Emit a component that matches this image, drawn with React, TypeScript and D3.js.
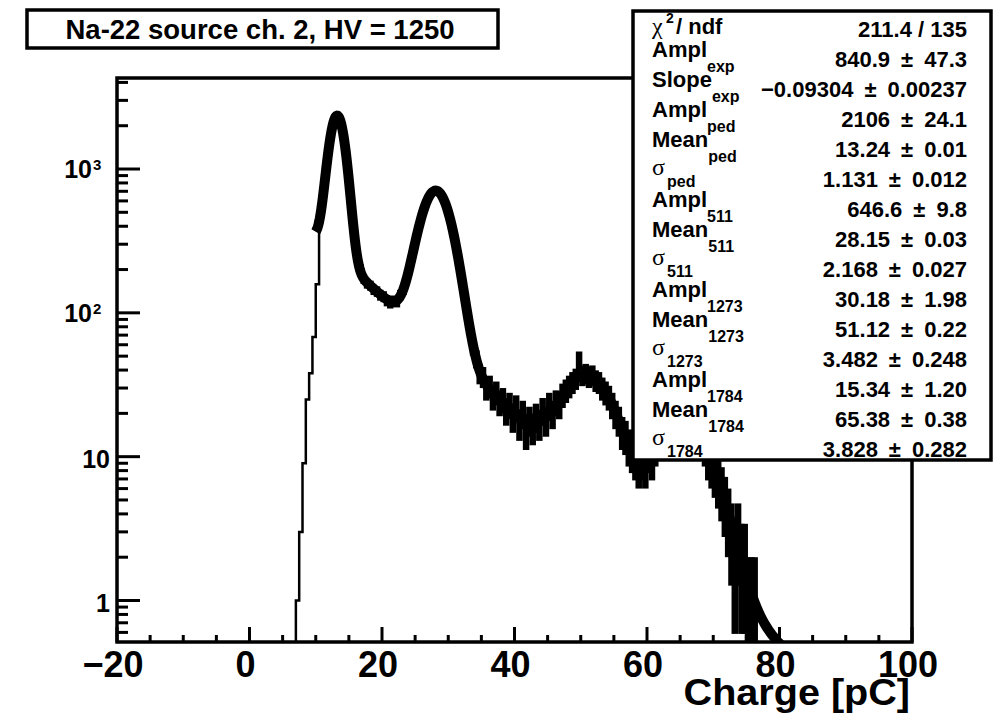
import React from "react";
import * as d3 from "d3";

// ---------- data ----------
const BIN_START = 7.0;
const BIN_WIDTH = 0.5;
// histogram counts, bins of 0.5 pC starting at 7.0 pC
const counts: number[] = [
  1, 3, 9, 25, 38, 68, 158, 440, 745, 1160,
  1710, 2160, 2360, 2120, 1650, 1070, 640, 380, 245, 196,
  172, 160, 155, 145, 141, 133, 130, 122, 118, 121,
  120, 133, 145, 176, 212, 277, 340, 430, 510, 600,
  655, 705, 700, 685, 620, 550, 450, 365, 282, 205,
  152, 106, 80, 58, 48, 38, 36, 30, 31, 26,
  28, 24, 25, 21, 23, 19, 22, 17, 20, 15,
  18, 16, 19, 17, 21, 18, 23, 20, 24, 23,
  27, 29, 31, 33, 35, 47, 37, 38, 36, 37,
  34, 33, 30, 28, 26, 23, 20, 18, 15, 14,
  12, 11, 10, 9, 10, 9, 11, 10, 12, 13,
  13, 15, 15, 17, 16, 17, 18, 17, 16, 16,
  15, 14, 13, 12, 10, 9, 8, 7, 6, 5,
  4, 3, 2, 3, 2, 2, 1, 1, 1, 0,
  0, 0, 0, 0, 0, 0, 0, 0, 0, 0,
];
const ERR_FROM = 10.5; // first bin drawn with error bars
const FIT_RANGE = [10, 85];
const expAmpl = 840.9;
const expSlope = -0.09304;
const peakAmpl = [2106, 646.6, 30.18, 15.34];
const peakMean = [13.24, 28.15, 51.12, 65.38];
const peakSigma = [1.131, 2.168, 3.482, 3.828];

const X_DOMAIN = [-20, 100];
const Y_DOMAIN = [0.5146, 4293];
const xMajorTicks = [-20, 0, 20, 40, 60, 80, 100];
const xLabels = ["\u221220", "0", "20", "40", "60", "80", "100"];
const yMajorTicks = [1, 10, 100, 1000];
const yLabelBase = ["1", "10", "10", "10"];
const yLabelExp = ["", "", "2", "3"];

const title = "Na-22 source ch. 2, HV = 1250";
const xTitle = "Charge [pC]";

const statMain = ["\u03c7", "Ampl", "Slope", "Ampl", "Mean", "\u03c3", "Ampl", "Mean", "\u03c3", "Ampl", "Mean", "\u03c3", "Ampl", "Mean", "\u03c3"];
const statSub = ["2", "exp", "exp", "ped", "ped", "ped", "511", "511", "511", "1273", "1273", "1273", "1784", "1784", "1784"];
const statValues = [
  "211.4 / 135",
  "840.9 \u00b1 47.3",
  "\u22120.09304 \u00b1 0.00237",
  "2106 \u00b1 24.1",
  "13.24 \u00b1 0.01",
  "1.131 \u00b1 0.012",
  "646.6 \u00b1 9.8",
  "28.15 \u00b1 0.03",
  "2.168 \u00b1 0.027",
  "30.18 \u00b1 1.98",
  "51.12 \u00b1 0.22",
  "3.482 \u00b1 0.248",
  "15.34 \u00b1 1.20",
  "65.38 \u00b1 0.38",
  "3.828 \u00b1 0.282",
];

// ---------- layout ----------
const W = 1006;
const H = 715;
const L = 117, R = 912, T = 78, B = 642;
const FONT = "'Liberation Sans', Arial, Helvetica, sans-serif";
const SERIF = "'Liberation Serif', 'DejaVu Serif', serif";

function fitFn(x: number): number {
  let v = expAmpl * Math.exp(expSlope * x);
  for (let i = 0; i < peakAmpl.length; i++) {
    const z = (x - peakMean[i]) / peakSigma[i];
    v += peakAmpl[i] * Math.exp(-0.5 * z * z);
  }
  return v;
}

export default function App() {
  const x = d3.scaleLinear().domain(X_DOMAIN).range([L, R]);
  const y = d3.scaleLog().domain(Y_DOMAIN).range([B, T]);
  const yc = (v: number) => (v <= Y_DOMAIN[0] ? B + 4 : y(v));

  // thin step line
  const stepPts: [number, number][] = [];
  stepPts.push([x(BIN_START), B + 4]);
  counts.forEach((c, i) => {
    const x0 = BIN_START + i * BIN_WIDTH;
    const x1 = x0 + BIN_WIDTH;
    stepPts.push([x(x0), yc(c)]);
    stepPts.push([x(x1), yc(c)]);
  });
  stepPts.push([x(BIN_START + counts.length * BIN_WIDTH), B + 4]);
  const stepPath = d3.line()(stepPts) || "";

  // error bars
  const errMarks: { x0: number; x1: number; xc: number; yv: number; ylo: number; yhi: number }[] = [];
  counts.forEach((c, i) => {
    const x0 = BIN_START + i * BIN_WIDTH;
    const xcv = x0 + BIN_WIDTH / 2;
    if (xcv < ERR_FROM || c <= 0) return;
    const e = Math.sqrt(c);
    errMarks.push({
      x0: x(x0),
      x1: x(x0 + BIN_WIDTH),
      xc: x(xcv),
      yv: yc(c),
      ylo: yc(c - e),
      yhi: yc(c + e),
    });
  });

  // fit curve
  const fitX = d3.range(FIT_RANGE[0], FIT_RANGE[1] + 0.001, 0.1);
  const fitPath =
    d3
      .line<number>()
      .x((d) => x(d))
      .y((d) => Math.min(B + 10, y(Math.max(fitFn(d), 1e-3))))(fitX) || "";

  // ticks
  const xMinor = d3.range(-20, 100.001, 5);
  const yMinor: number[] = [];
  for (let d = -1; d <= 3; d++) {
    for (let k = 2; k <= 9; k++) {
      const v = k * Math.pow(10, d);
      if (v > Y_DOMAIN[0] && v < Y_DOMAIN[1]) yMinor.push(v);
    }
  }

  const statBase = (i: number) => 37 + 30 * i;

  return (
    <svg
      width={W}
      height={H}
      viewBox={`0 0 ${W} ${H}`}
      style={{ position: "absolute", left: 0, top: 0, background: "#fff" }}
      fontFamily={FONT}
    >
      <rect x={0} y={0} width={W} height={H} fill="#fff" />
      <defs>
        <clipPath id="plotClip">
          <rect x={L} y={T} width={R - L} height={B - T} />
        </clipPath>
      </defs>

      <g clipPath="url(#plotClip)">
        <path d={stepPath} fill="none" stroke="#000" strokeWidth={2.5} />
        {errMarks.map((m, i) => (
          <g key={i} stroke="#000" strokeWidth={6.5}>
            <line x1={m.x0} x2={m.x1} y1={m.yv} y2={m.yv} />
            <line x1={m.xc} x2={m.xc} y1={m.ylo} y2={m.yhi} />
          </g>
        ))}
        <path d={fitPath} fill="none" stroke="#000" strokeWidth={10} strokeLinejoin="round" />
      </g>

      {/* frame */}
      <rect x={L} y={T} width={R - L} height={B - T} fill="none" stroke="#000" strokeWidth={3.5} />

      {/* x ticks */}
      {xMinor.map((v) => {
        const major = Math.abs(v % 20) < 1e-9;
        return (
          <line key={v} x1={x(v)} x2={x(v)} y1={B} y2={B - (major ? 15 : 7)} stroke="#000" strokeWidth={3} />
        );
      })}
      {xMajorTicks.map((v, i) => (
        <text key={v} x={x(v) - 4} y={677} textAnchor="middle" fontSize={36} fontWeight="bold">
          {xLabels[i]}
        </text>
      ))}
      <text
        transform="translate(910,705) scale(1.07,1)"
        x={0}
        y={0}
        textAnchor="end"
        fontSize={37}
        fontWeight="bold"
      >
        {xTitle}
      </text>

      {/* y ticks */}
      {yMinor.map((v) => (
        <line key={v} x1={L} x2={L + 11} y1={y(v)} y2={y(v)} stroke="#000" strokeWidth={3} />
      ))}
      {yMajorTicks.map((v) => (
        <line key={v} x1={L} x2={L + 23} y1={y(v)} y2={y(v)} stroke="#000" strokeWidth={3} />
      ))}
      {yMajorTicks.map((v, i) =>
        yLabelExp[i] ? (
          <g key={v}>
            <text x={92} y={y(v) + 9} textAnchor="end" fontSize={25} fontWeight="bold">
              {yLabelBase[i]}
            </text>
            <text x={93} y={y(v) + 1} fontSize={15} fontWeight="bold">
              {yLabelExp[i]}
            </text>
          </g>
        ) : (
          <text key={v} x={110} y={y(v) + 11} textAnchor="end" fontSize={25} fontWeight="bold">
            {yLabelBase[i]}
          </text>
        )
      )}

      {/* title box */}
      <rect x={27} y={10} width={471} height={38} fill="#fff" stroke="#000" strokeWidth={3.5} />
      <text x={260} y={39} textAnchor="middle" fontSize={27.5} fontWeight="bold">
        {title}
      </text>

      {/* stats box */}
      <rect x={633} y={11} width={358} height={449} fill="#fff" stroke="#000" strokeWidth={3.5} />
      {statMain.map((m, i) => {
        const vb = statBase(i);
        const parts = statValues[i].split(" \u00b1 ");
        const valueText = parts.length === 2 ? `${parts[0]}\u2002\u00b1\u2002${parts[1]}` : statValues[i];
        let label: React.ReactNode;
        if (i === 0) {
          label = (
            <g>
              <text x={652} y={vb - 3} fontFamily={SERIF} fontSize={24}>
                {m}
              </text>
              <text x={666} y={vb - 14} fontSize={14} fontWeight="bold">
                {statSub[i]}
              </text>
              <text x={676} y={vb - 3} fontSize={22} fontWeight="bold">
                / ndf
              </text>
            </g>
          );
        } else if (m === "\u03c3") {
          label = (
            <g>
              <text x={652} y={vb - 12} fontFamily={SERIF} fontSize={24}>
                {m}
              </text>
              <text x={667} y={vb} fontSize={16} fontWeight="bold">
                {statSub[i]}
              </text>
            </g>
          );
        } else {
          label = (
            <text x={652} y={vb - 10} fontSize={22} fontWeight="bold">
              {m}
              <tspan fontSize={16} dy={15}>
                {statSub[i]}
              </tspan>
            </text>
          );
        }
        return (
          <g key={i}>
            {label}
            <text x={967} y={vb} textAnchor="end" fontSize={22} fontWeight="bold">
              {valueText}
            </text>
          </g>
        );
      })}
    </svg>
  );
}
